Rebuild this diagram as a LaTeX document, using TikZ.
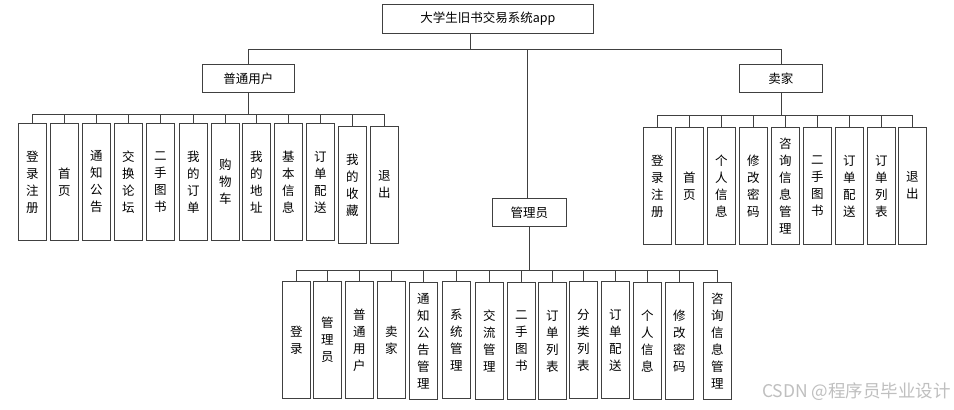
\documentclass[tikz,border=0pt]{standalone}
\usepackage{fontspec}
\newfontfamily\cjk{Noto Sans CJK SC}
\begin{document}
\begin{tikzpicture}[x=1pt,y=-1pt,
  box/.style={draw=black!75,line width=0.8pt,fill=white,inner sep=0pt},
  top/.style={box,font=\cjk\fontsize{12.5}{14}\selectfont},
  leaf/.style={box,anchor=north west,minimum width=28pt,minimum height=117pt,align=center,font=\cjk\fontsize{12.5}{17}\selectfont},
  wire/.style={draw=black!75,line width=0.8pt}]
\useasboundingbox[fill=white] (0,0) rectangle (954,410);
% top level
\node[top,anchor=north west,minimum width=211pt,minimum height=29pt] (root) at (382,4) {大学生旧书交易系统app};
\node[top,anchor=north west,minimum width=92pt,minimum height=28pt] (user) at (202,64) {普通用户};
\node[top,anchor=north west,minimum width=83pt,minimum height=28pt] (seller) at (739,64) {卖家};
\node[top,anchor=north west,minimum width=74pt,minimum height=28pt] (admin) at (492,198) {管理员};
\coordinate (rb) at (470,49);
\coordinate (ab) at (527,49);
\draw[wire] (root.south -| rb) -- (rb) -| (user.north);
\draw[wire] (rb) -| (seller.north);
\draw[wire] (ab) -- (ab |- admin.north);
% user children
\node[leaf] (u1) at (18,123) {登\\录\\注\\册};
\node[leaf] (u2) at (50,123) {首\\页};
\node[leaf] (u3) at (82,123) {通\\知\\公\\告};
\node[leaf] (u4) at (114,123) {交\\换\\论\\坛};
\node[leaf] (u5) at (146,123) {二\\手\\图\\书};
\node[leaf] (u6) at (179,123) {我\\的\\订\\单};
\node[leaf] (u7) at (211,123) {购\\物\\车};
\node[leaf] (u8) at (242,123) {我\\的\\地\\址};
\node[leaf] (u9) at (274,123) {基\\本\\信\\息};
\node[leaf] (u10) at (306,123) {订\\单\\配\\送};
\node[leaf] (u11) at (338,126) {我\\的\\收\\藏};
\node[leaf] (u12) at (370,126) {退\\出};
\foreach \i in {1,...,12} \draw[wire] (user.south) -- ++(0,22) -| (u\i.north);
% seller children
\node[leaf] (s1) at (643,127) {登\\录\\注\\册};
\node[leaf] (s2) at (675,127) {首\\页};
\node[leaf] (s3) at (707,127) {个\\人\\信\\息};
\node[leaf] (s4) at (739,127) {修\\改\\密\\码};
\node[leaf] (s5) at (771,127) {咨\\询\\信\\息\\管\\理};
\node[leaf] (s6) at (803,127) {二\\手\\图\\书};
\node[leaf] (s7) at (835,127) {订\\单\\配\\送};
\node[leaf] (s8) at (867,127) {订\\单\\列\\表};
\node[leaf] (s9) at (898,127) {退\\出};
\foreach \i in {1,...,9} \draw[wire] (seller.south) -- ++(0,23) -| (s\i.north);
% admin children
\node[leaf] (a1) at (282,281) {登\\录};
\node[leaf] (a2) at (313,281) {管\\理\\员};
\node[leaf] (a3) at (345,281) {普\\通\\用\\户};
\node[leaf] (a4) at (377,281) {卖\\家};
\node[leaf] (a5) at (409,282) {通\\知\\公\\告\\管\\理};
\node[leaf] (a6) at (442,281) {系\\统\\管\\理};
\node[leaf] (a7) at (475,282) {交\\流\\管\\理};
\node[leaf] (a8) at (507,282) {二\\手\\图\\书};
\node[leaf] (a9) at (538,282) {订\\单\\列\\表};
\node[leaf] (a10) at (569,281) {分\\类\\列\\表};
\node[leaf] (a11) at (601,281) {订\\单\\配\\送};
\node[leaf] (a12) at (633,282) {个\\人\\信\\息};
\node[leaf] (a13) at (665,282) {修\\改\\密\\码};
\node[leaf] (a14) at (703,282) {咨\\询\\信\\息\\管\\理};
\foreach \i in {1,...,14} \draw[wire] (admin.south) -- ++(0,44) -| (a\i.north);
% watermark
\node[anchor=east,text=black!25,font=\cjk\fontsize{17.5}{19}\selectfont,inner sep=0pt] (wm) at (951,392) {CSDN @程序员毕业设计};
\end{tikzpicture}
\end{document}
